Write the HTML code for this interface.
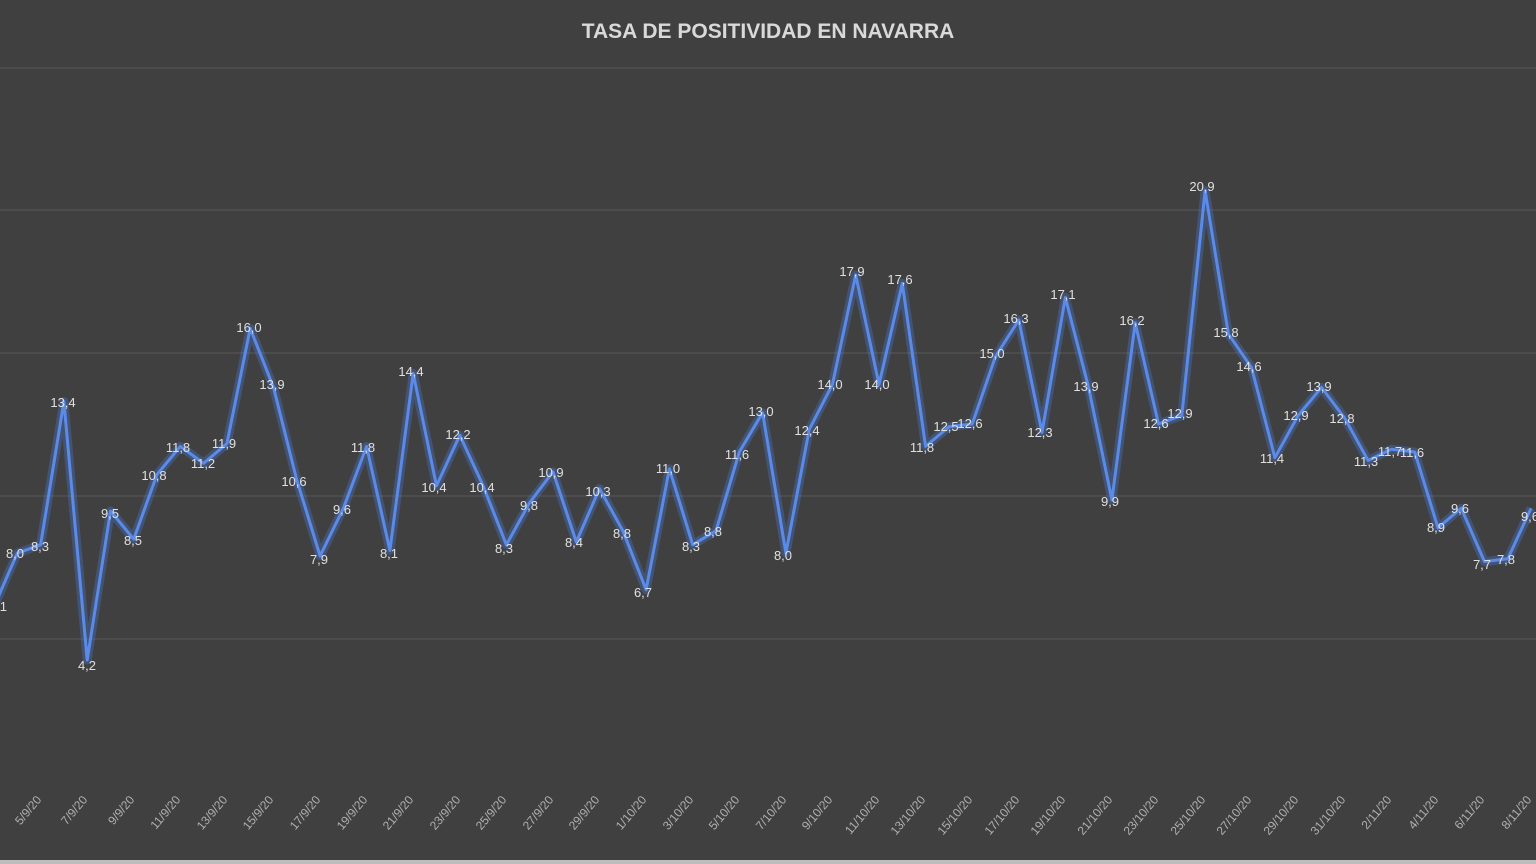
<!DOCTYPE html>
<html><head><meta charset="utf-8"><style>
html,body{margin:0;padding:0;background:#404040;}
svg{display:block}
</style></head><body>
<svg width="1536" height="864" xmlns="http://www.w3.org/2000/svg" font-family="Liberation Sans, sans-serif">
<rect width="1536" height="864" fill="#404040"/>
<rect y="860" width="1536" height="4" fill="#bdbdbd"/>
<text x="768" y="38" text-anchor="middle" font-size="21" font-weight="bold" fill="#d9d9d9">TASA DE POSITIVIDAD EN NAVARRA</text>
<g stroke="#595959" stroke-width="1">
<line x1="0" x2="1536" y1="68" y2="68"/><line x1="0" x2="1536" y1="210" y2="210"/><line x1="0" x2="1536" y1="353" y2="353"/><line x1="0" x2="1536" y1="496" y2="496"/><line x1="0" x2="1536" y1="639" y2="639"/>
</g>
<polyline fill="none" stroke="#4a78d8" stroke-opacity="0.35" stroke-width="9" stroke-linejoin="round" points="-6,606.6 17.3,553.2 40.6,544.8 63.9,401.5 87.2,660 110.5,511 133.7,539.2 157,474.5 180.3,446.4 203.6,463.3 226.9,443.6 250.2,328.4 273.5,387.4 296.8,480.1 320.1,556 343.4,508.2 366.6,446.4 389.9,550.4 413.2,373.4 436.5,485.8 459.8,435.2 483.1,485.8 506.4,544.8 529.7,502.6 553,471.7 576.3,542 599.5,488.6 622.8,530.7 646.1,589.7 669.4,468.9 692.7,544.8 716,530.7 739.3,452 762.6,412.7 785.9,553.2 809.2,429.6 832.4,384.6 855.7,275 879,384.6 902.3,283.4 925.6,446.4 948.9,426.8 972.2,424 995.5,356.5 1018.8,320 1042,432.4 1065.3,297.5 1088.6,387.4 1111.9,499.8 1135.2,322.8 1158.5,424 1181.8,415.5 1205.1,190.7 1228.4,334 1251.6,367.7 1274.9,457.7 1298.2,415.5 1321.5,387.4 1344.8,418.3 1368.1,460.5 1391.4,449.2 1414.7,452 1438,527.9 1461.2,508.2 1484.5,561.6 1507.8,558.8 1531.1,508.2"/>
<polyline fill="none" stroke="#5b8be6" stroke-width="3" stroke-linejoin="round" points="-6,606.6 17.3,553.2 40.6,544.8 63.9,401.5 87.2,660 110.5,511 133.7,539.2 157,474.5 180.3,446.4 203.6,463.3 226.9,443.6 250.2,328.4 273.5,387.4 296.8,480.1 320.1,556 343.4,508.2 366.6,446.4 389.9,550.4 413.2,373.4 436.5,485.8 459.8,435.2 483.1,485.8 506.4,544.8 529.7,502.6 553,471.7 576.3,542 599.5,488.6 622.8,530.7 646.1,589.7 669.4,468.9 692.7,544.8 716,530.7 739.3,452 762.6,412.7 785.9,553.2 809.2,429.6 832.4,384.6 855.7,275 879,384.6 902.3,283.4 925.6,446.4 948.9,426.8 972.2,424 995.5,356.5 1018.8,320 1042,432.4 1065.3,297.5 1088.6,387.4 1111.9,499.8 1135.2,322.8 1158.5,424 1181.8,415.5 1205.1,190.7 1228.4,334 1251.6,367.7 1274.9,457.7 1298.2,415.5 1321.5,387.4 1344.8,418.3 1368.1,460.5 1391.4,449.2 1414.7,452 1438,527.9 1461.2,508.2 1484.5,561.6 1507.8,558.8 1531.1,508.2"/>
<g font-size="13" fill="#e0e0e0" text-anchor="middle">
<text x="-2" y="611">6,1</text><text x="15" y="558">8,0</text><text x="40" y="551">8,3</text><text x="63" y="407">13,4</text><text x="87" y="670">4,2</text><text x="110" y="518">9,5</text><text x="133" y="545">8,5</text><text x="154" y="480">10,8</text><text x="178" y="452">11,8</text><text x="203" y="468">11,2</text><text x="224" y="448">11,9</text><text x="249" y="332">16,0</text><text x="272" y="389">13,9</text><text x="294" y="486">10,6</text><text x="319" y="564">7,9</text><text x="342" y="514">9,6</text><text x="363" y="452">11,8</text><text x="389" y="558">8,1</text><text x="411" y="376">14,4</text><text x="434" y="492">10,4</text><text x="458" y="439">12,2</text><text x="482" y="492">10,4</text><text x="504" y="553">8,3</text><text x="529" y="510">9,8</text><text x="551" y="477">10,9</text><text x="574" y="547">8,4</text><text x="598" y="496">10,3</text><text x="622" y="538">8,8</text><text x="643" y="597">6,7</text><text x="668" y="473">11,0</text><text x="691" y="551">8,3</text><text x="713" y="536">8,8</text><text x="737" y="459">11,6</text><text x="761" y="416">13,0</text><text x="783" y="560">8,0</text><text x="807" y="435">12,4</text><text x="830" y="389">14,0</text><text x="852" y="276">17,9</text><text x="877" y="389">14,0</text><text x="900" y="284">17,6</text><text x="922" y="452">11,8</text><text x="946" y="431">12,5</text><text x="970" y="428">12,6</text><text x="992" y="358">15,0</text><text x="1016" y="323">16,3</text><text x="1040" y="437">12,3</text><text x="1063" y="299">17,1</text><text x="1086" y="391">13,9</text><text x="1110" y="506">9,9</text><text x="1132" y="325">16,2</text><text x="1156" y="428">12,6</text><text x="1180" y="418">12,9</text><text x="1202" y="191">20,9</text><text x="1226" y="337">15,8</text><text x="1249" y="371">14,6</text><text x="1272" y="463">11,4</text><text x="1296" y="420">12,9</text><text x="1319" y="391">13,9</text><text x="1342" y="423">12,8</text><text x="1366" y="466">11,3</text><text x="1390" y="456">11,7</text><text x="1412" y="457">11,6</text><text x="1436" y="532">8,9</text><text x="1460" y="513">9,6</text><text x="1482" y="569">7,7</text><text x="1506" y="564">7,8</text><text x="1530" y="521">9,6</text>
</g>
<g font-size="12" fill="#b0b0b0" text-anchor="end">
<text transform="translate(42,800) rotate(-50)">5/9/20</text>
<text transform="translate(88,800) rotate(-50)">7/9/20</text>
<text transform="translate(135,800) rotate(-50)">9/9/20</text>
<text transform="translate(181,800) rotate(-50)">11/9/20</text>
<text transform="translate(228,800) rotate(-50)">13/9/20</text>
<text transform="translate(274,800) rotate(-50)">15/9/20</text>
<text transform="translate(321,800) rotate(-50)">17/9/20</text>
<text transform="translate(368,800) rotate(-50)">19/9/20</text>
<text transform="translate(414,800) rotate(-50)">21/9/20</text>
<text transform="translate(461,800) rotate(-50)">23/9/20</text>
<text transform="translate(507,800) rotate(-50)">25/9/20</text>
<text transform="translate(554,800) rotate(-50)">27/9/20</text>
<text transform="translate(600,800) rotate(-50)">29/9/20</text>
<text transform="translate(647,800) rotate(-50)">1/10/20</text>
<text transform="translate(694,800) rotate(-50)">3/10/20</text>
<text transform="translate(740,800) rotate(-50)">5/10/20</text>
<text transform="translate(787,800) rotate(-50)">7/10/20</text>
<text transform="translate(833,800) rotate(-50)">9/10/20</text>
<text transform="translate(880,800) rotate(-50)">11/10/20</text>
<text transform="translate(926,800) rotate(-50)">13/10/20</text>
<text transform="translate(973,800) rotate(-50)">15/10/20</text>
<text transform="translate(1020,800) rotate(-50)">17/10/20</text>
<text transform="translate(1066,800) rotate(-50)">19/10/20</text>
<text transform="translate(1113,800) rotate(-50)">21/10/20</text>
<text transform="translate(1159,800) rotate(-50)">23/10/20</text>
<text transform="translate(1206,800) rotate(-50)">25/10/20</text>
<text transform="translate(1252,800) rotate(-50)">27/10/20</text>
<text transform="translate(1299,800) rotate(-50)">29/10/20</text>
<text transform="translate(1346,800) rotate(-50)">31/10/20</text>
<text transform="translate(1392,800) rotate(-50)">2/11/20</text>
<text transform="translate(1439,800) rotate(-50)">4/11/20</text>
<text transform="translate(1485,800) rotate(-50)">6/11/20</text>
<text transform="translate(1532,800) rotate(-50)">8/11/20</text>
</g>
</svg>
</body></html>
